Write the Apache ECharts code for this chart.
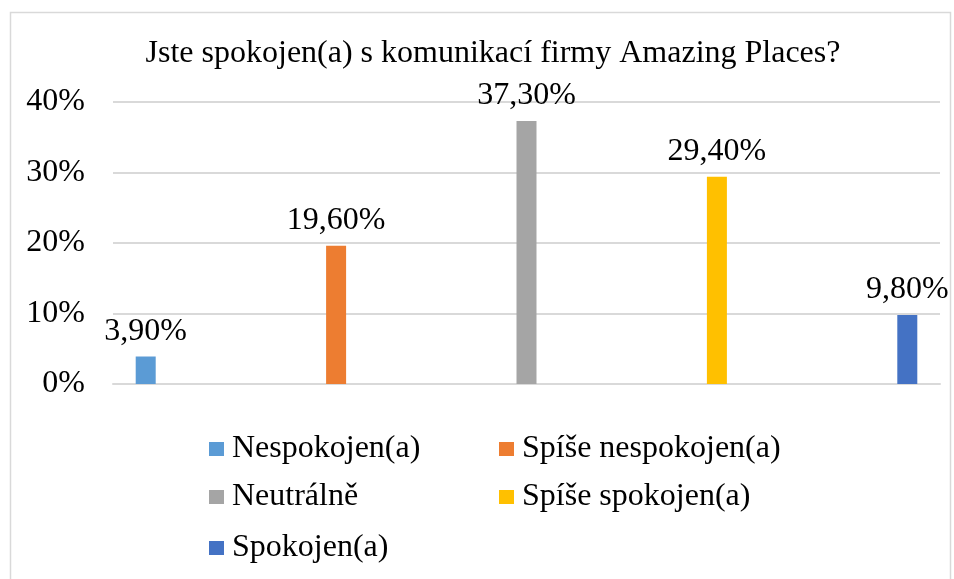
<!DOCTYPE html>
<html><head><meta charset="utf-8">
<script src="https://cdn.jsdelivr.net/npm/echarts@6/dist/echarts.min.js"></script>
<style>html,body{margin:0;padding:0;background:#fff}#c{width:954px;height:579px}</style>
</head><body><div id="c"></div>
<script>
const titleText = 'Jste spokojen(a) s komunikací firmy Amazing Places?';
const category = [''];
const seriesNames = ['Nespokojen(a)', 'Spíše nespokojen(a)', 'Neutrálně', 'Spíše spokojen(a)', 'Spokojen(a)'];
const seriesValues = [3.9, 19.6, 37.3, 29.4, 9.8];
const seriesColors = ['#5B9BD5', '#ED7D31', '#A5A5A5', '#FFC000', '#4472C4'];
const yTicks = [0, 10, 20, 30, 40];

const font = '"Liberation Serif", "Times New Roman", serif';
const fmt = v => v.toFixed(2).replace('.', ',') + '%';

const legendPos = [[209, 433], [499, 433], [209, 481], [499, 481], [209, 532]];

const chart = echarts.init(document.getElementById('c'));
chart.setOption({
  animation: false,
  title: {
    text: titleText, left: 488, textAlign: 'center', top: 33,
    textStyle: { fontFamily: font, fontSize: 32, fontWeight: 'normal', color: '#000' }
  },
  grid: { left: 113, right: 14, top: 102, bottom: 195 },
  xAxis: {
    type: 'category', data: category,
    axisLine: { show: true, lineStyle: { color: '#d9d9d9', width: 2 } },
    axisTick: { show: false }, axisLabel: { show: false }
  },
  yAxis: {
    type: 'value', min: yTicks[0], max: yTicks[yTicks.length - 1], interval: 10,
    axisLine: { show: false }, axisTick: { show: false },
    axisLabel: { formatter: v => v + '%', fontFamily: font, fontSize: 32, color: '#000', margin: 28 },
    splitLine: { lineStyle: { color: '#d9d9d9', width: 2 } }
  },
  legend: legendPos.map((p, i) => ({
    data: [seriesNames[i]], left: p[0], top: p[1], padding: 0,
    itemWidth: 15, itemHeight: 14, icon: 'rect', itemGap: 0,
    textStyle: { fontFamily: font, fontSize: 32, color: '#000', padding: [0, 0, 0, 3] }
  })),
  series: seriesNames.map((n, i) => ({
    name: n, type: 'bar', barWidth: 20, barGap: '852%',
    itemStyle: { color: seriesColors[i] },
    data: [seriesValues[i]],
    label: { show: true, position: 'top', distance: 9, formatter: p => fmt(p.value),
      fontFamily: font, fontSize: 32, color: '#000' }
  })),
  graphic: [{
    type: 'rect', shape: { x: 10.5, y: 12.5, width: 940, height: 620 },
    style: { fill: 'none', stroke: '#d9d9d9', lineWidth: 1.5 }, silent: true, z: -1
  }]
});
</script></body></html>
